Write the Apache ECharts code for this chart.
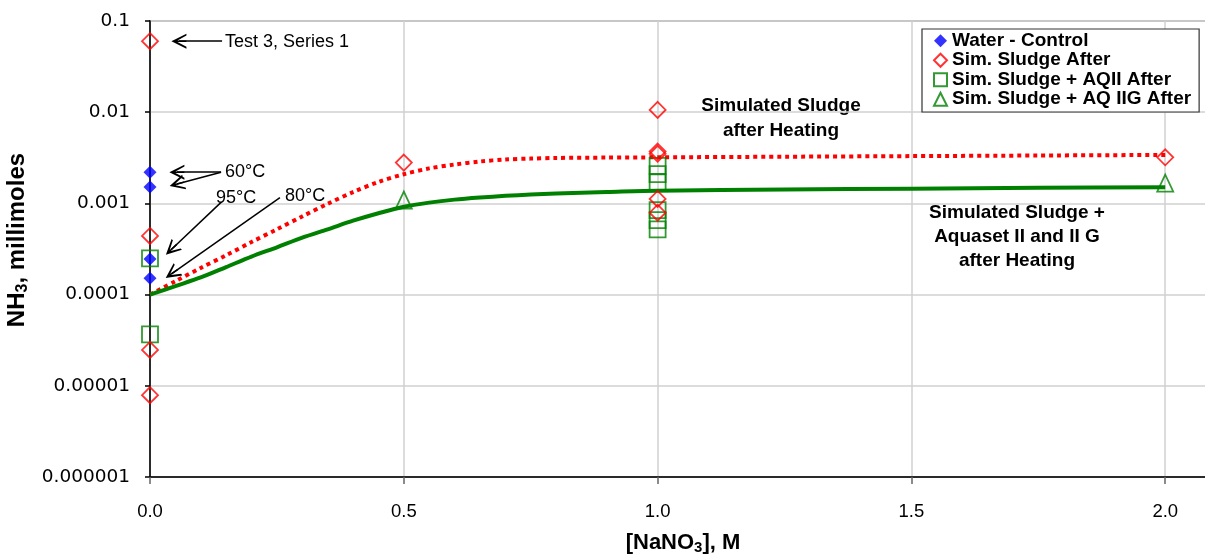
<!DOCTYPE html>
<html><head><meta charset="utf-8">
<script src="https://cdn.jsdelivr.net/npm/echarts@6/dist/echarts.min.js"></script>
<style>html,body{margin:0;padding:0;background:#fff}#c{width:1205px;height:554px}</style>
</head><body><div id="c"></div>
<script>
// ---- data ----
const waterX = [0, 0, 0, 0];
const waterY = [0.0022, 0.00151, 0.000245, 0.000151];
const simX = [0, 0, 0, 0, 0.5, 1, 1, 1, 1, 1, 2];
const simY = [0.06, 0.00044, 0.0000247, 0.0000079, 0.0028, 0.0106, 0.0037, 0.0035, 0.00112, 0.00079, 0.0032];
const aqiiX = [0, 0, 1, 1, 1, 1, 1, 1];
const aqiiY = [0.00025, 0.0000367, 0.00258, 0.00209, 0.0017, 0.000845, 0.000656, 0.000519];
const aqiigX = [0.5, 2];
const aqiigY = [0.00109, 0.00167];
const fitX = [0, 0.05, 0.1, 0.15, 0.2, 0.25, 0.3, 0.35, 0.4, 0.45, 0.5, 0.55, 0.6, 0.65, 0.7, 0.75, 0.8, 0.9, 1.0, 1.25, 1.5, 1.75, 2.0];
const fitSimY = [0.0001, 0.00014, 0.000196, 0.00027, 0.000377, 0.00052, 0.00072, 0.00099, 0.00133, 0.00172, 0.00209, 0.00242, 0.00267, 0.00288, 0.00303, 0.0031, 0.00315, 0.00318, 0.0032, 0.00325, 0.0033, 0.00335, 0.0034];
const fitAqY = [0.0001, 0.000124, 0.000154, 0.0002, 0.000261, 0.00033, 0.000421, 0.00052, 0.000646, 0.00078, 0.00092, 0.00102, 0.0011, 0.00116, 0.00121, 0.00125, 0.00128, 0.00133, 0.00138, 0.00142, 0.00145, 0.00148, 0.0015];
const legendNames = ['Water - Control', 'Sim. Sludge After', 'Sim. Sludge + AQII After', 'Sim. Sludge + AQ IIG After'];
// annotation arrows: [fromX, fromY, toX, toY]
const arrows = [
  [0.142, 0.06, 0.057, 0.06],
  [0.14, 0.0022, 0.053, 0.0022],
  [0.14, 0.0022, 0.053, 0.00163],
  [0.141, 0.00104, 0.042, 0.000312],
  [0.256, 0.00116, 0.043, 0.00017]
];

const zip = (xs, ys) => xs.map((x, i) => [x, ys[i]]);
const FONT = 'Liberation Sans, Arial, sans-serif';
const RED = '#ff0000', GREEN = '#008000', BLUE = '#0000ff';
const arrowPath = 'path://M10,0 L20,20 L17.5,20 L11,8 L11,20 L9,20 L9,8 L2.5,20 L0,20 Z';

const chart = echarts.init(document.getElementById('c'), null, {renderer: 'canvas'});
chart.setOption({
  animation: false,
  backgroundColor: '#fff',
  grid: {left: 150, top: 21, width: 1066, height: 456, outerBoundsMode: 'none', containLabel: false,
    show: true, borderColor: '#000', borderWidth: 1.5, backgroundColor: 'transparent'},
  xAxis: {
    type: 'value', min: 0, max: 2.1, interval: 0.5,
    name: '{a|[NaNO}{s|3}{a|], M}', nameLocation: 'middle', nameGap: 53,
    nameTextStyle: {rich: {
      a: {fontFamily: FONT, fontWeight: 'bold', fontSize: 22, color: '#000'},
      s: {fontFamily: FONT, fontWeight: 'bold', fontSize: 15, color: '#000', padding: [10, 0, 0, 0]}
    }},
    axisLine: {show: true, onZero: false, lineStyle: {color: '#000', width: 1.5}},
    axisTick: {show: true, length: 7, lineStyle: {color: '#666', width: 1.5}},
    axisLabel: {margin: 25, fontFamily: FONT, fontSize: 18.5, color: '#000',
      formatter: v => (Math.abs(v * 2 - Math.round(v * 2)) < 1e-9 ? v.toFixed(1) : '')},
    splitLine: {show: true, lineStyle: {color: '#d0d0d0', width: 1.5}}
  },
  yAxis: {
    type: 'log', logBase: 10, min: 0.000001, max: 0.1, interval: 1,
    name: '{a|NH}{s|3}{a|, millimoles}', nameLocation: 'middle', nameGap: 112, nameRotate: 90,
    nameTextStyle: {padding: [0, 0, 0, 18], rich: {
      a: {fontFamily: FONT, fontWeight: 'bold', fontSize: 24, color: '#000'},
      s: {fontFamily: FONT, fontWeight: 'bold', fontSize: 16, color: '#000', padding: [10, 0, 0, 0]}
    }},
    axisLine: {show: true, lineStyle: {color: '#000', width: 1.5}},
    axisTick: {show: true, length: 5, lineStyle: {color: '#000', width: 1.5}},
    minorTick: {show: false},
    axisLabel: {margin: 20, fontFamily: 'DejaVu Sans, sans-serif', fontSize: 18.5, color: '#000',
      formatter: v => { const e = Math.round(Math.log10(v)); return e >= 0 ? String(v) : v.toFixed(-e); }},
    splitLine: {show: true, lineStyle: {color: '#d0d0d0', width: 1.5}}
  },
  legend: {
    left: 922, top: 29, orient: 'vertical', itemGap: 0, itemWidth: 13, itemHeight: 13,
    padding: [2, 8, 3, 11], backgroundColor: '#fff', borderColor: '#333', borderWidth: 1.2,
    textStyle: {fontFamily: FONT, fontWeight: 'bold', fontSize: 19, color: '#000', lineHeight: 19.5},
    data: [
      {name: legendNames[0], icon: 'diamond'},
      {name: legendNames[1], icon: 'diamond'},
      {name: legendNames[2], icon: 'rect'},
      {name: legendNames[3], icon: 'triangle'}
    ],
    selectedMode: false
  },
  graphic: [
    {type: 'text', silent: true, style: {x: 225, y: 42, text: 'Test 3, Series 1', font: '18px ' + FONT, fill: '#000', verticalAlign: 'middle'}},
    {type: 'text', silent: true, style: {x: 225, y: 172, text: '60°C', font: '18px ' + FONT, fill: '#000', verticalAlign: 'middle'}},
    {type: 'text', silent: true, style: {x: 216, y: 198, text: '95°C', font: '18px ' + FONT, fill: '#000', verticalAlign: 'middle'}},
    {type: 'text', silent: true, style: {x: 285, y: 196, text: '80°C', font: '18px ' + FONT, fill: '#000', verticalAlign: 'middle'}},
    {type: 'text', silent: true, style: {x: 781, y: 93, text: 'Simulated Sludge\nafter Heating', font: 'bold 19px ' + FONT, fill: '#000', align: 'center', lineHeight: 25}},
    {type: 'text', silent: true, style: {x: 1017, y: 201, text: 'Simulated Sludge +\nAquaset II and II G\nafter Heating', font: 'bold 19px ' + FONT, fill: '#000', align: 'center', lineHeight: 24}}
  ],
  series: [
    {name: 'fitSim', type: 'line', data: zip(fitX, fitSimY), showSymbol: false, smooth: 0.3, z: 2,
      lineStyle: {color: RED, width: 4, type: [4, 4], cap: 'butt'}, silent: true},
    {name: 'fitAq', type: 'line', data: zip(fitX, fitAqY), showSymbol: false, smooth: 0.3, z: 2,
      lineStyle: {color: GREEN, width: 4, type: 'solid'}, silent: true},
    {name: legendNames[2], type: 'scatter', data: zip(aqiiX, aqiiY), symbol: 'rect', symbolSize: 16, z: 3,
      itemStyle: {color: 'rgba(0,0,0,0)', borderColor: GREEN, borderWidth: 1.8}},
    {name: legendNames[3], type: 'scatter', data: zip(aqiigX, aqiigY), symbol: 'triangle', symbolSize: [16, 17], z: 3,
      itemStyle: {color: 'rgba(0,0,0,0)', borderColor: GREEN, borderWidth: 1.8}},
    {name: legendNames[1], type: 'scatter', data: zip(simX, simY), symbol: 'diamond', symbolSize: 16, z: 4,
      itemStyle: {color: 'rgba(0,0,0,0)', borderColor: RED, borderWidth: 1.8}},
    {name: legendNames[0], type: 'scatter', data: zip(waterX, waterY), symbol: 'diamond', symbolSize: 13, z: 5,
      itemStyle: {color: BLUE, borderWidth: 0}},
    {name: 'annot', type: 'scatter', data: [], silent: true, z: 6,
      markLine: {silent: true, symbol: ['none', arrowPath], symbolSize: 15, label: {show: false},
        lineStyle: {color: '#000', width: 1.5, type: 'solid'}, emphasis: {disabled: true},
        data: arrows.map(a => [{coord: [a[0], a[1]]}, {coord: [a[2], a[3]]}])}}
  ]
});
</script></body></html>
